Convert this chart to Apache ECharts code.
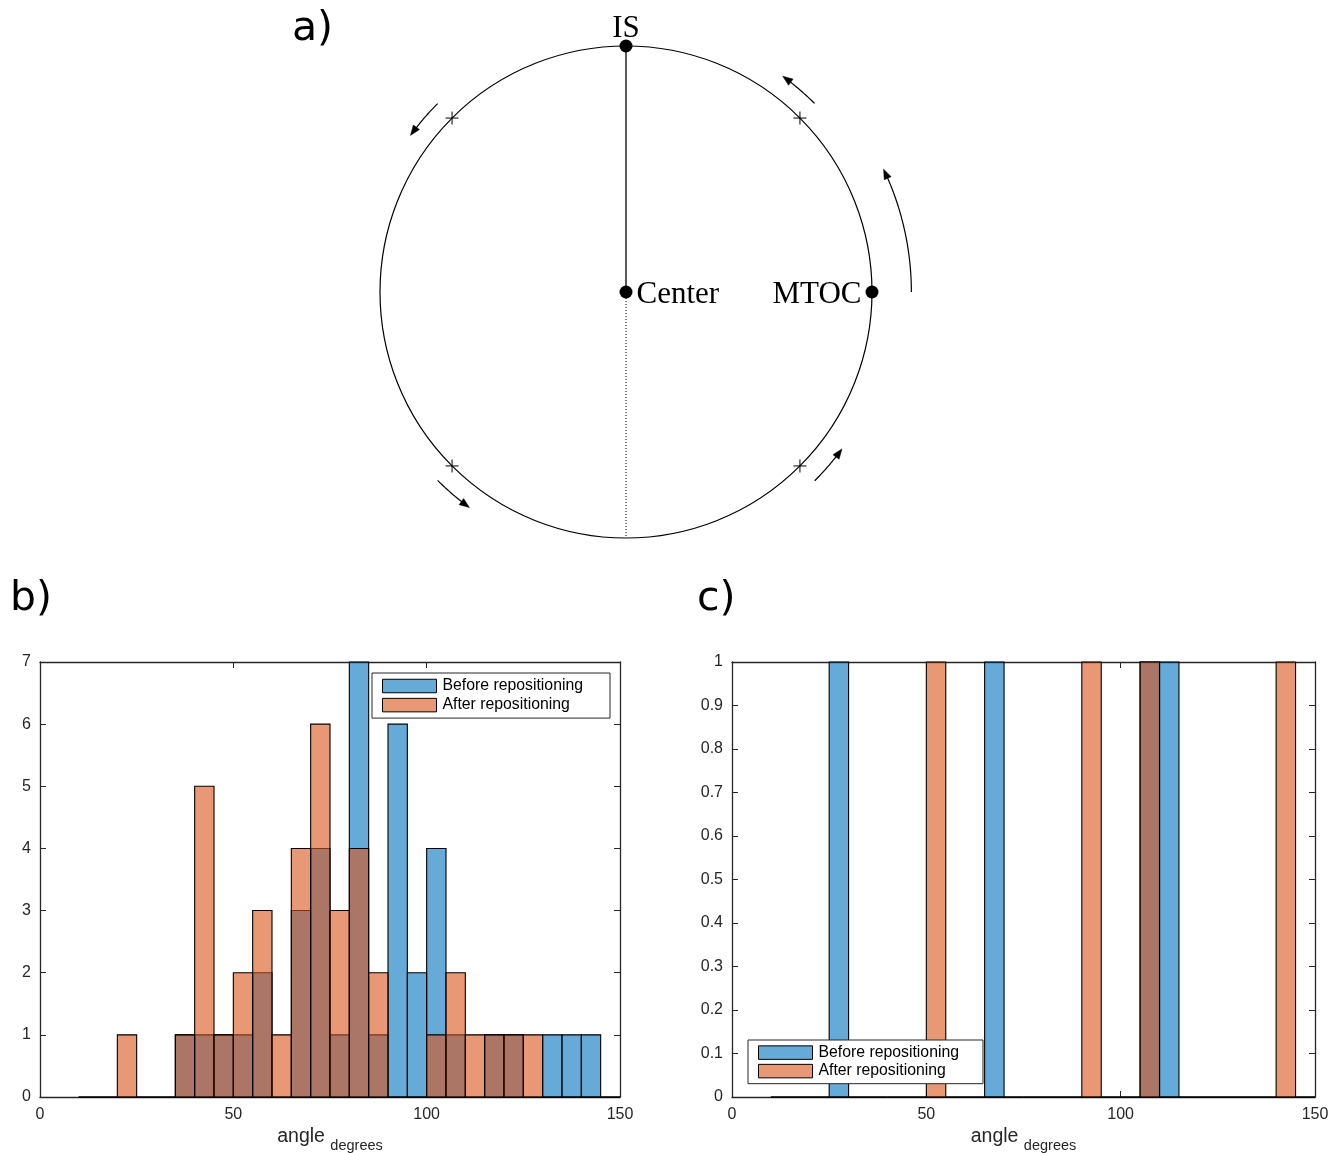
<!DOCTYPE html>
<html><head><meta charset="utf-8">
<script src="https://cdn.jsdelivr.net/npm/echarts@6/dist/echarts.min.js"></script>
<style>html,body{margin:0;padding:0;background:#fff}#c{width:1337px;height:1153px}</style>
</head><body><div id="c"></div>
<script>
// ---------- Panel a: diagram (polar: [radius, angle in degrees]) ----------
const pointNames  = ['IS', 'Center', 'MTOC'];
const pointRadius = [1, 0, 1];
const pointAngle  = [90, 0, 0];
const crossAngles = [45, 135, 225, 315];
const arrowRadius = [1.083, 1.084, 1.083, 1.085, 1.16];
const arrowFrom   = [135, 45, 225, 315, 0];
const arrowTo     = [144, 54, 234, 324, 25.5];
const radialSolid  = [[0, 90], [1, 90]];
const radialDotted = [[0, 270], [1, 270]];

// ---------- Panels b, c: histograms ----------
const binEdges = [10,15,20,25,30,35,40,45,50,55,60,65,70,75,80,85,90,95,100,105,110,115,120,125,130,135,140,145,150];
const beforeB = [0,0,0,0,0,1,1,1,1,2,0,3,4,1,7,1,6,2,4,1,0,1,1,0,1,1,1,0];
const afterB  = [0,0,1,0,0,1,5,1,2,3,1,4,6,3,4,2,0,0,1,2,1,1,1,1,0,0,0,0];
const beforeC = [0,0,0,1,0,0,0,0,0,0,0,1,0,0,0,0,0,0,0,1,1,0,0,0,0,0,0,0];
const afterC  = [0,0,0,0,0,0,0,0,1,0,0,0,0,0,0,0,1,0,0,1,0,0,0,0,0,0,1,0];
const xTicks = [0, 150, 50];      // min, max, interval
const yTicksB = [0, 7, 1];
const yTicksC = [0, 1, 0.1];
const seriesNames = ['Before repositioning', 'After repositioning'];

const BLUE = 'rgba(0,114,189,0.6)';
const ORANGE = 'rgba(217,83,25,0.6)';
const AX = '#262626';
const SANS = 'Liberation Sans, Arial, sans-serif';
const SERIF = 'Liberation Serif, Times New Roman, serif';

function histData(counts) { return counts.map((c, i) => [binEdges[i], binEdges[i + 1], c]); }

function histItem(params, api) {
  const p0 = api.coord([api.value(0), api.value(2)]);
  const p1 = api.coord([api.value(1), 0]);
  return { type: 'rect',
    shape: { x: p0[0], y: p0[1], width: p1[0] - p0[0], height: p1[1] - p0[1] },
    style: { fill: api.visual('color'), stroke: '#000', lineWidth: 1.1 } };
}

function crossItem(params, api) {
  const p = api.coord([api.value(0), api.value(1)]);
  const h = 6.5;
  return { type: 'group', children: [
    { type: 'line', shape: { x1: p[0] - h, y1: p[1], x2: p[0] + h, y2: p[1] }, style: { stroke: '#000', lineWidth: 1 } },
    { type: 'line', shape: { x1: p[0], y1: p[1] - h, x2: p[0], y2: p[1] + h }, style: { stroke: '#000', lineWidth: 1 } }
  ] };
}

function arrowItem(params, api) {
  const r = api.value(0), a1 = api.value(1), a2 = api.value(2);
  const n = 30, pts = [];
  for (let k = 0; k <= n; k++) pts.push(api.coord([r, a1 + (a2 - a1) * k / n]));
  const tip = pts[n], prev = pts[n - 2];
  let dx = tip[0] - prev[0], dy = tip[1] - prev[1];
  const len = Math.hypot(dx, dy); dx /= len; dy /= len;
  const L = 10, W = 3.8;
  const base = [tip[0] - dx * L, tip[1] - dy * L];
  const linePts = pts.slice(0, n - 1); linePts.push(base);
  return { type: 'group', children: [
    { type: 'polyline', shape: { points: linePts }, style: { stroke: '#000', lineWidth: 1.2, fill: null } },
    { type: 'polygon', shape: { points: [tip, [base[0] - dy * W, base[1] + dx * W], [base[0] + dy * W, base[1] - dx * W]] },
      style: { fill: '#000', stroke: '#000', lineWidth: 0.5 } }
  ] };
}

const labelPos = { 'IS': 'top', 'Center': 'right', 'MTOC': 'left' };
const labelOffset = { 'IS': [0, 9], 'Center': [0, 3], 'MTOC': [0, 3] };

function xAx(gi, pos, showLabel) {
  const o = { gridIndex: gi, type: 'value', min: xTicks[0], max: xTicks[1], interval: xTicks[2], position: pos,
    axisLine: { show: true, onZero: false, lineStyle: { color: AX, width: 1.3 } },
    axisTick: { show: true, inside: true, length: 6, lineStyle: { color: AX, width: 1 } },
    axisLabel: { show: showLabel, fontSize: 16, color: AX, margin: 10, fontFamily: SANS },
    splitLine: { show: false } };
  if (showLabel) {
    o.name = '{a|angle} {s|degrees}';
    o.nameLocation = 'middle';
    o.nameGap = 30;
    o.nameTextStyle = { fontFamily: SANS, fontSize: 19.5, color: AX,
      rich: { a: { fontSize: 19.5, fontFamily: SANS, color: AX, lineHeight: 22, verticalAlign: 'top' },
              s: { fontSize: 14.5, fontFamily: SANS, color: AX, lineHeight: 16, verticalAlign: 'top', padding: [11, 0, 0, 0] } } };
  }
  return o;
}
function yAx(gi, pos, showLabel, t) {
  return { gridIndex: gi, type: 'value', min: t[0], max: t[1], interval: t[2], position: pos,
    axisLine: { show: true, onZero: false, lineStyle: { color: AX, width: 1.3 } },
    axisTick: { show: true, inside: true, length: 6, lineStyle: { color: AX, width: 1 } },
    axisLabel: { show: showLabel, fontSize: 16, color: AX, margin: 9, fontFamily: SANS },
    splitLine: { show: false } };
}

const legendCommon = {
  orient: 'vertical', icon: 'rect', itemWidth: 54, itemHeight: 13.5, itemGap: 3.1,
  borderColor: AX, borderWidth: 1, borderRadius: 0, backgroundColor: '#fff',
  textStyle: { fontFamily: SANS, fontSize: 15.8, color: '#000', padding: [0, 0, 0, 1] },
  itemStyle: { borderColor: '#000', borderWidth: 1 },
  selectedMode: false, data: seriesNames
};

const option = {
  animation: false,
  backgroundColor: '#fff',
  title: [
    { text: 'a)', left: 292, top: 9, padding: 0, textStyle: { fontFamily: 'DejaVu Sans', fontSize: 41, fontWeight: 'normal', color: '#000' } },
    { text: 'b)', left: 10, top: 579, padding: 0, textStyle: { fontFamily: 'DejaVu Sans', fontSize: 41, fontWeight: 'normal', color: '#000' } },
    { text: 'c)', left: 697, top: 579, padding: 0, textStyle: { fontFamily: 'DejaVu Sans', fontSize: 41, fontWeight: 'normal', color: '#000' } }
  ],
  legend: [
    Object.assign({}, legendCommon, { left: 372, top: 673, padding: [5, 27, 5, 10] }),
    Object.assign({}, legendCommon, { left: 748, top: 1040, itemGap: 2.5, padding: [4.6, 24, 4.6, 10] })
  ],
  polar: { center: [626, 292], radius: 246 },
  angleAxis: { type: 'value', min: 0, max: 360, startAngle: 0, clockwise: false,
    axisLine: { show: true, lineStyle: { color: '#000', width: 1.2 } },
    axisTick: { show: false }, axisLabel: { show: false }, splitLine: { show: false } },
  radiusAxis: { type: 'value', min: 0, max: 1,
    axisLine: { show: false }, axisTick: { show: false }, axisLabel: { show: false }, splitLine: { show: false } },
  grid: [
    { left: 40, top: 662, width: 580, height: 435, containLabel: false, outerBoundsMode: 'none' },
    { left: 732, top: 662, width: 583, height: 435, containLabel: false, outerBoundsMode: 'none' }
  ],
  xAxis: [xAx(0, 'bottom', true), xAx(0, 'top', false), xAx(1, 'bottom', true), xAx(1, 'top', false)],
  yAxis: [yAx(0, 'left', true, yTicksB), yAx(0, 'right', false, yTicksB), yAx(1, 'left', true, yTicksC), yAx(1, 'right', false, yTicksC)],
  series: [
    { type: 'line', coordinateSystem: 'polar', data: radialSolid, showSymbol: false, symbol: 'none',
      lineStyle: { color: '#000', width: 1.3 }, silent: true, z: 3 },
    { type: 'line', coordinateSystem: 'polar', data: radialDotted, showSymbol: false, symbol: 'none',
      lineStyle: { color: '#000', width: 1, type: [1, 2] }, silent: true, z: 3 },
    { type: 'custom', coordinateSystem: 'polar', renderItem: crossItem, encode: { radius: 0, angle: 1 },
      data: crossAngles.map(a => [1, a]), silent: true, z: 4 },
    { type: 'custom', coordinateSystem: 'polar', renderItem: arrowItem, encode: { radius: 0, angle: 1 },
      data: arrowRadius.map((r, i) => [r, arrowFrom[i], arrowTo[i]]), silent: true, z: 4 },
    { type: 'scatter', coordinateSystem: 'polar', symbol: 'circle', symbolSize: 13,
      itemStyle: { color: '#000', opacity: 1 }, z: 5, silent: true,
      data: pointNames.map((n, i) => ({ name: n, value: [pointRadius[i], pointAngle[i]],
        label: { show: true, formatter: n, position: labelPos[n], distance: 4, offset: labelOffset[n],
          fontFamily: SERIF, fontSize: 31, color: '#000', opacity: 1 } })) },
    { name: seriesNames[0], type: 'custom', xAxisIndex: 0, yAxisIndex: 0, renderItem: histItem,
      encode: { x: [0, 1], y: 2 }, itemStyle: { color: BLUE, borderColor: '#000', borderWidth: 1 }, data: histData(beforeB), z: 2 },
    { name: seriesNames[1], type: 'custom', xAxisIndex: 0, yAxisIndex: 0, renderItem: histItem,
      encode: { x: [0, 1], y: 2 }, itemStyle: { color: ORANGE, borderColor: '#000', borderWidth: 1 }, data: histData(afterB), z: 2 },
    { name: seriesNames[0], type: 'custom', xAxisIndex: 2, yAxisIndex: 2, renderItem: histItem,
      encode: { x: [0, 1], y: 2 }, itemStyle: { color: BLUE, borderColor: '#000', borderWidth: 1 }, data: histData(beforeC), z: 2 },
    { name: seriesNames[1], type: 'custom', xAxisIndex: 2, yAxisIndex: 2, renderItem: histItem,
      encode: { x: [0, 1], y: 2 }, itemStyle: { color: ORANGE, borderColor: '#000', borderWidth: 1 }, data: histData(afterC), z: 2 }
  ]
};

const chart = echarts.init(document.getElementById('c'), null, { renderer: 'canvas' });
chart.setOption(option);
</script>
</body></html>
